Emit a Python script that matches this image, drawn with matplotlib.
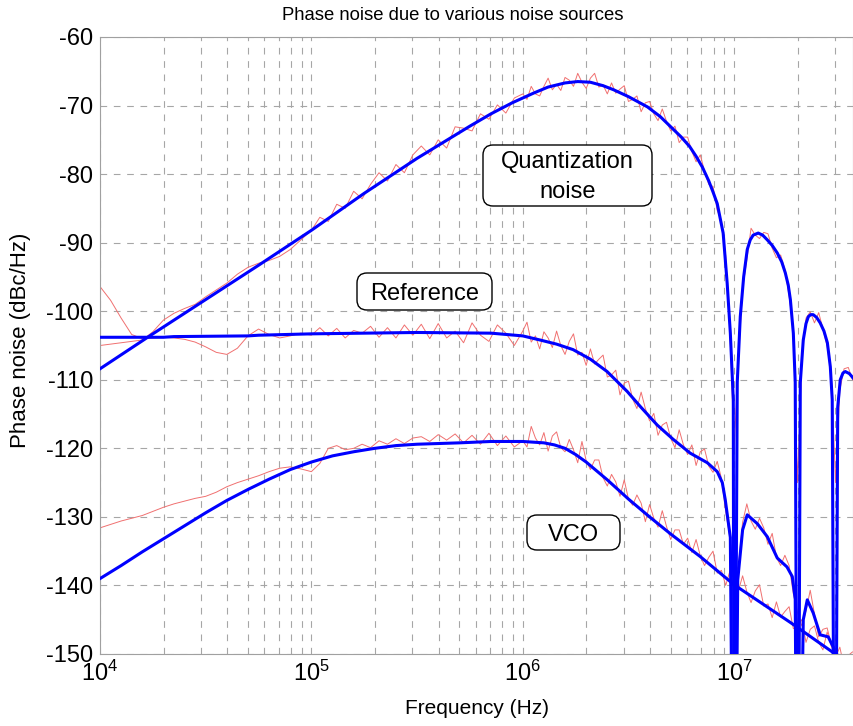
import numpy as np
import matplotlib
matplotlib.use('Agg')
import matplotlib.pyplot as plt
from matplotlib.patches import FancyBboxPatch
from matplotlib.transforms import IdentityTransform

plt.rcParams['font.family'] = ['Liberation Sans', 'DejaVu Sans']

# --- model curves (blue): log10(frequency / Hz) and dBc/Hz ---
quant_logf = [4.0, 4.25, 4.5, 4.75, 5.0, 5.25, 5.5, 5.75, 5.85, 5.95, 6.05, 6.12, 6.2, 6.26,
              6.32, 6.38, 6.43, 6.5, 6.59, 6.65, 6.7, 6.75, 6.79, 6.82, 6.85, 6.88, 6.9, 6.92,
              6.948, 6.967, 6.982, 6.996, 7.0,
              7.0147, 7.029, 7.045, 7.062, 7.076, 7.09, 7.114, 7.135, 7.157, 7.18, 7.204,
              7.225, 7.242, 7.256, 7.266, 7.28, 7.289, 7.301,
              7.313, 7.327, 7.34, 7.351, 7.362, 7.374, 7.39, 7.407, 7.425, 7.441, 7.455,
              7.464, 7.477, 7.49, 7.502, 7.515, 7.526, 7.545, 7.559, 7.57]
quant_db = [-108.4, -103.3, -98.3, -93.3, -88.2, -82.8, -77.7, -73.0, -71.2, -69.6, -68.2, -67.3, -66.7, -66.5,
            -66.6, -67.1, -67.7, -68.7, -70.2, -71.6, -73.1, -74.6, -76.0, -77.4, -79.0, -81.0, -82.6, -84.3,
            -88.6, -95.9, -103.2, -112.9, -200,
            -110.4, -100.8, -95.0, -91.0, -89.6, -88.9, -88.6, -88.9, -89.6, -90.4, -91.5,
            -92.8, -94.4, -96.2, -98.3, -103.2, -110.4, -200,
            -110.4, -104.2, -101.8, -100.8, -100.5, -100.5, -100.9, -101.7, -102.9, -104.6, -108.1,
            -112.9, -200, -114.0, -110.0, -109.0, -108.8, -109.1, -109.6, -110.0]

ref_logf = [4.0, 4.3, 4.35, 4.7, 4.75, 5.0, 5.5, 5.85, 6.0, 6.082, 6.16, 6.238, 6.32, 6.399, 6.494,
            6.556, 6.636, 6.712, 6.792, 6.873, 6.92, 6.944, 6.958, 6.982, 7.0, 7.017, 7.04, 7.062,
            7.11, 7.157, 7.204, 7.25, 7.275, 7.289, 7.301, 7.327, 7.346, 7.374, 7.407, 7.445,
            7.469, 7.477, 7.52, 7.57]
ref_db = [-103.8, -103.8, -103.7, -103.6, -103.5, -103.3, -103.1, -103.2, -103.6, -104.2, -104.8, -105.6, -107.0, -108.8, -111.7,
          -113.9, -116.6, -118.7, -120.7, -122.1, -123.4, -125.0, -127.5, -133.0, -200, -139.2, -131.9, -129.7,
          -131.0, -132.9, -136.0, -137.3, -138.7, -142.0, -200, -145.0, -142.1, -144.0, -147.2, -147.5,
          -149.0, -200, -153.0, -156.0]

vco_logf = [4.0, 4.1, 4.2, 4.3, 4.4, 4.5, 4.6, 4.7, 4.8, 4.9, 5.0, 5.1, 5.2, 5.3, 5.4, 5.5, 5.6, 5.7,
            5.85, 6.0, 6.1, 6.15, 6.2, 6.25, 6.3, 6.35, 6.4, 6.5, 6.6, 6.7, 6.84, 7.0, 7.266, 7.469, 7.57]
vco_db = [-139.0, -137.1, -135.1, -133.2, -131.3, -129.4, -127.6, -126.0, -124.5, -123.1, -122.0, -121.1,
          -120.5, -120.0, -119.6, -119.4, -119.3, -119.2, -119.0, -119.0, -119.2, -119.5, -120.0, -120.9,
          -122.0, -123.3, -124.6, -127.4, -130.0, -132.5, -135.8, -139.9, -145.4, -149.8, -151.6]

# --- simulated spectra (red), read off the picture on one frequency grid ---
sim_logf = [4.00, 4.05, 4.10, 4.15, 4.20, 4.25, 4.30, 4.35, 4.40, 4.45, 4.50, 4.55, 4.60, 4.65,
            4.70, 4.75, 4.80, 4.85, 4.90, 4.95, 5.00,
            5.04, 5.08, 5.12, 5.16, 5.20, 5.24, 5.28, 5.32, 5.36, 5.40, 5.44, 5.48, 5.52, 5.56,
            5.60, 5.64, 5.68, 5.72, 5.76, 5.80, 5.84, 5.88, 5.92, 5.96,
            6.00, 6.02, 6.04, 6.06, 6.08, 6.10, 6.12, 6.14, 6.16, 6.18,
            6.20, 6.22, 6.24, 6.26, 6.28, 6.30, 6.32, 6.34, 6.36, 6.38,
            6.40, 6.42, 6.44, 6.46, 6.48, 6.50, 6.52, 6.54, 6.56, 6.58,
            6.60, 6.62, 6.64, 6.66, 6.68, 6.70, 6.72, 6.74, 6.76, 6.78,
            6.80, 6.82, 6.84, 6.86, 6.88, 6.90, 6.92, 6.94, 6.96, 6.98,
            7.00, 7.02, 7.04, 7.06, 7.08, 7.10, 7.12, 7.14, 7.16, 7.18,
            7.20, 7.22, 7.24, 7.26, 7.28, 7.30, 7.32, 7.34, 7.36, 7.38,
            7.40, 7.42, 7.44, 7.46, 7.48, 7.50, 7.52, 7.54, 7.56]

sim_quant_db = [-105.0, -104.8, -104.6, -104.4, -104.2, -103.0, -101.3, -100.3, -99.6, -99.0, -97.9, -96.9, -95.9, -94.6,
                -93.6, -93.0, -92.6, -92.0, -91.0, -89.6, -88.2,
                -86.3, -86.9, -84.4, -85.0, -82.5, -83.6, -81.5, -79.8, -81.0, -78.6, -79.8, -77.2, -75.9, -77.2,
                -75.0, -76.2, -73.1, -73.3, -73.7, -71.2, -72.0, -69.9, -71.1, -68.9,
                -68.3, -69.1, -67.2, -68.3, -68.6, -67.2, -66.0, -67.7, -66.9, -67.8,
                -65.9, -66.3, -67.2, -65.3, -66.6, -67.5, -66.0, -65.3, -67.3, -67.0,
                -68.3, -66.7, -68.2, -67.6, -67.1, -69.4, -69.1, -68.6, -70.9, -69.6,
                -69.4, -71.2, -72.2, -70.5, -72.3, -73.7, -73.0, -75.4, -74.6, -74.6,
                -76.7, -78.2, -77.2, -79.6, -81.5, -81.8, -85.3, -86.8, -91.9, -103.0,
                -120.0, -107.0, -96.7, -92.5, -87.9, -88.9, -89.4, -88.5, -88.7, -90.8,
                -92.2, -91.8, -93.9, -97.8, -102.5, -125.0, -107.0, -101.0, -100.1, -101.7,
                -100.2, -102.6, -105.1, -109.5, -125.0, -111.5, -108.4, -108.2, -110.0]

sim_ref_db = [-96.4, -98.4, -101.0, -103.4, -104.0, -103.9, -103.8, -103.9, -104.1, -104.5, -105.2, -106.0, -106.3, -105.4,
              -103.6, -102.6, -103.4, -103.9, -103.6, -103.2, -103.5,
              -102.4, -103.6, -102.5, -103.9, -102.8, -103.2, -102.2, -103.8, -102.4, -103.9, -102.0, -103.5, -101.9, -104.0,
              -101.8, -103.9, -102.9, -104.6, -101.7, -103.5, -104.4, -102.0, -103.2, -105.0,
              -102.9, -101.6, -104.5, -103.6, -105.5, -103.0, -103.9, -105.3, -102.9, -105.0,
              -106.3, -104.4, -103.3, -106.4, -106.0, -107.9, -105.5, -107.7, -107.0, -106.4,
              -109.6, -109.3, -108.6, -112.2, -110.5, -110.2, -112.8, -114.2, -111.8, -114.2,
              -116.0, -114.9, -118.1, -116.6, -116.2, -118.5, -119.9, -117.3, -119.5, -120.9,
              -119.5, -122.5, -120.5, -120.1, -122.6, -123.5, -121.9, -124.4, -129.2, -133.0,
              -138.5, -137.2, -130.8, -128.1, -130.6, -131.8, -130.2, -131.6, -134.0, -132.4,
              -135.9, -137.1, -135.6, -137.1, -141.2, -144.0, -145.9, -143.7, -140.7, -144.2,
              -147.5, -146.4, -146.2, -148.7, -149.6, -152.5, -151.4, -154.1, -156.0]

sim_vco_db = [-131.6, -131.1, -130.6, -130.2, -129.8, -129.2, -128.6, -128.1, -127.7, -127.3, -127.0, -126.4, -125.6, -125.0,
              -124.5, -124.0, -123.4, -122.9, -122.7, -123.0, -123.4,
              -122.2, -120.0, -119.6, -120.2, -120.0, -119.4, -119.9, -118.9, -119.4, -118.6, -119.3, -118.5, -118.3, -119.0,
              -118.0, -118.8, -117.9, -119.2, -118.1, -119.4, -117.8, -119.6, -118.2, -119.8,
              -118.9, -119.8, -116.8, -118.5, -119.5, -117.7, -120.4, -118.2, -117.6, -119.9,
              -120.5, -118.7, -120.2, -122.1, -119.0, -121.8, -123.1, -121.7, -121.7, -124.3,
              -125.5, -123.8, -124.9, -127.0, -124.6, -127.4, -128.3, -126.8, -128.0, -130.7,
              -128.2, -130.2, -131.5, -129.1, -131.4, -133.3, -131.9, -131.9, -134.0, -133.1,
              -135.2, -133.3, -135.7, -137.1, -135.9, -135.0, -138.2, -137.8, -140.0, -137.9,
              -139.1, -140.8, -138.6, -140.9, -142.5, -140.8, -139.9, -143.0, -142.7, -144.7,
              -142.4, -144.6, -143.8, -143.1, -146.3, -145.8, -145.0, -148.3, -146.4, -145.9,
              -148.3, -149.4, -146.8, -148.9, -150.4, -149.0, -151.9, -150.2, -149.7]

yticks = [-150, -140, -130, -120, -110, -100, -90, -80, -70, -60]

W, H = 854, 726
fig = plt.figure(figsize=(W / 100, H / 100), dpi=100)
ax = fig.add_axes([100 / W, 72 / H, 753 / W, 617 / H])

red = '#f07070'
blue = '#0000ff'
f_sim = 10 ** np.array(sim_logf)
for db in (sim_quant_db, sim_ref_db, sim_vco_db):
    ax.plot(f_sim, db, color=red, lw=0.7, zorder=2)
for lf, db in ((quant_logf, quant_db), (ref_logf, ref_db), (vco_logf, vco_db)):
    ax.plot(10 ** np.array(lf), db, color=blue, lw=2.2, zorder=3)

ax.set_xscale('log')
ax.set_xlim(1e4, 3.65e7)
ax.set_ylim(-150, -60)
ax.set_yticks(yticks)
ax.set_yticklabels([str(t) for t in yticks])

grid_kw = dict(color='#a6a6a6', lw=0.8, ls=(0, (6, 6)))
ax.grid(True, which='both', axis='x', **grid_kw)
ax.grid(True, which='major', axis='y', **grid_kw)
ax.set_axisbelow(True)
for s in ax.spines.values():
    s.set_color('#a0a0a0')
    s.set_linewidth(0.8)
ax.tick_params(which='both', length=0, labelsize=17)
ax.tick_params(axis='x', pad=5)
ax.tick_params(axis='y', pad=5)

fig.text(453 / W, (H - 19.5) / H, 'Phase noise due to various noise sources',
         ha='center', va='baseline', fontsize=13.3)
fig.text(477 / W, 12 / H, 'Frequency (Hz)', ha='center', va='baseline', fontsize=15)
fig.text(21 / W, (H - 340) / H, 'Phase noise (dBc/Hz)', ha='center', va='center',
         rotation=90, fontsize=16)

# annotation boxes, in pixels
boxes = [((483, 145, 652, 206), [('Quantization', 168), ('noise', 198)]),
         ((357, 273, 492, 310), [('Reference', 300)]),
         ((527, 515, 620, 550), [('VCO', 541)])]
for (x0, y0, x1, y1), lines in boxes:
    p = FancyBboxPatch((x0, H - y1), x1 - x0, y1 - y0,
                       boxstyle='round,pad=0,rounding_size=10',
                       transform=IdentityTransform(), fc='white', ec='black', lw=1.0, zorder=5)
    fig.patches.append(p)
    for txt, base in lines:
        fig.text((x0 + x1) / 2 / W, (H - base) / H, txt, ha='center', va='baseline',
                 fontsize=17, zorder=6)

fig.savefig('out.png', dpi=100)
